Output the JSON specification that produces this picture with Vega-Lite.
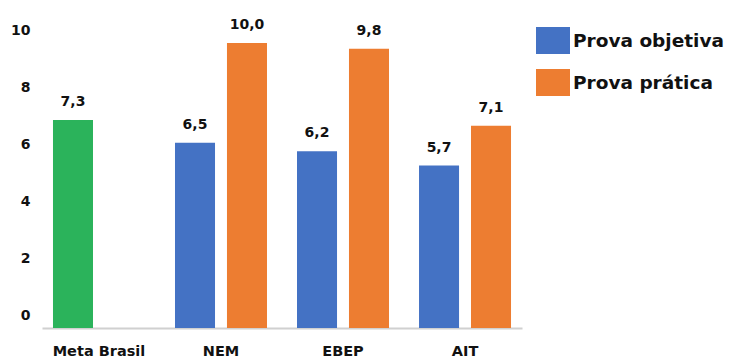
{
  "$schema": "https://vega.github.io/schema/vega-lite/v6.json",
  "autosize": {"type": "none"},
  "width": 480,
  "height": 313.5,
  "padding": {"left": 42, "top": 14.5, "right": 209, "bottom": 32},
  "background": "white",
  "config": {
    "locale": {"number": {"decimal": ",", "thousands": ".", "grouping": [3], "currency": ["R$", ""]}},
    "view": {"stroke": null},
    "font": "DejaVu Sans"
  },
  "data": {
    "values": [
      {"grupo": "Meta Brasil", "serie": "Meta Brasil", "valor": 7.3},
      {"grupo": "NEM", "serie": "Prova objetiva", "valor": 6.5},
      {"grupo": "NEM", "serie": "Prova prática", "valor": 10.0},
      {"grupo": "EBEP", "serie": "Prova objetiva", "valor": 6.2},
      {"grupo": "EBEP", "serie": "Prova prática", "valor": 9.8},
      {"grupo": "AIT", "serie": "Prova objetiva", "valor": 5.7},
      {"grupo": "AIT", "serie": "Prova prática", "valor": 7.1}
    ]
  },
  "encoding": {
    "x": {
      "field": "grupo", "type": "nominal", "sort": ["Meta Brasil", "NEM", "EBEP", "AIT"],
      "scale": {"paddingInner": 0.246, "paddingOuter": 0.09},
      "axis": {"title": null, "labelAngle": 0, "labelFont": "DejaVu Sans", "labelFontSize": 14.5, "labelFontWeight": "bold", "labelColor": "#111", "ticks": false, "domainColor": "#d0d0d0", "domainWidth": 2, "labelPadding": 16}
    },
    "y": {
      "field": "valor", "type": "quantitative",
      "scale": {"domain": [0, 11], "nice": false},
      "axis": {"title": null, "values": [0, 2, 4, 6, 8, 10], "grid": false, "domain": false, "ticks": false, "labelFont": "DejaVu Sans", "labelFontSize": 14, "labelFontWeight": "bold", "labelColor": "#111", "labelPadding": 12, "labelOffset": -13}
    },
    "color": {
      "field": "serie", "type": "nominal",
      "scale": {"domain": ["Meta Brasil", "Prova objetiva", "Prova prática"], "range": ["#2bb35b", "#4472c4", "#ed7d31"]},
      "legend": {
        "title": null, "values": ["Prova objetiva", "Prova prática"], "orient": "none", "legendX": 494, "legendY": 9,
        "symbolType": "M-1,-0.8H1V0.8H-1Z", "symbolSize": 1156, "symbolStrokeWidth": 0, "symbolOpacity": 1,
        "labelFont": "DejaVu Sans", "labelFontSize": 18.5, "labelFontWeight": "bold", "labelColor": "#111", "labelOffset": 3, "rowPadding": 11, "labelLimit": 300
      }
    }
  },
  "layer": [
    {
      "transform": [{"filter": "datum.grupo !== 'Meta Brasil'"}],
      "encoding": {"xOffset": {"field": "serie", "type": "nominal", "scale": {"domain": ["Prova objetiva", "Prova prática"], "paddingInner": 0.23}}},
      "layer": [
        {"mark": {"type": "bar"}},
        {"mark": {"type": "text", "baseline": "bottom", "dy": -11, "font": "DejaVu Sans", "fontSize": 14, "fontWeight": "bold", "color": "#111"},
         "encoding": {"text": {"field": "valor", "type": "quantitative", "format": ".1f"}, "color": {"value": "#111"}}}
      ]
    },
    {
      "transform": [{"filter": "datum.grupo === 'Meta Brasil'"}],
      "encoding": {"xOffset": {"datum": "Prova objetiva"}},
      "layer": [
        {"mark": {"type": "bar"}},
        {"mark": {"type": "text", "baseline": "bottom", "dy": -11, "font": "DejaVu Sans", "fontSize": 14, "fontWeight": "bold", "color": "#111"},
         "encoding": {"text": {"field": "valor", "type": "quantitative", "format": ".1f"}, "color": {"value": "#111"}}}
      ]
    }
  ]
}
